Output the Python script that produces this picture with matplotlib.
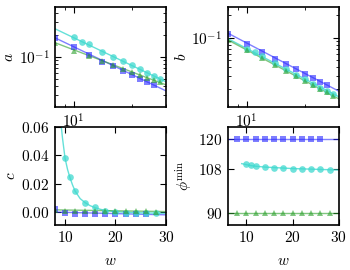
import matplotlib
matplotlib.use("Agg")
import matplotlib.pyplot as plt
from matplotlib.ticker import NullFormatter, FuncFormatter

plt.rcParams['font.family'] = 'serif'
plt.rcParams['font.serif'] = ['cmr10', 'DejaVu Serif']
plt.rcParams['mathtext.fontset'] = 'cm'
plt.rcParams['axes.formatter.use_mathtext'] = True
plt.rcParams['font.size'] = 11

# ---------------- data ----------------
w_blue = [8, 10, 12, 14, 16, 18, 20, 22, 24, 26]
w_cyan = [10, 11, 12, 14, 16, 18, 20, 22, 24, 26, 28]
w_green = [8, 10, 12, 14, 16, 18, 20, 22, 24, 26, 28]

a_blue = [0.182, 0.135, 0.106, 0.086, 0.074, 0.064, 0.056, 0.050, 0.045, 0.041]
a_cyan = [0.186, 0.160, 0.148, 0.117, 0.100, 0.087, 0.076, 0.067, 0.060, 0.055, 0.050]
a_green = [0.156, 0.120, 0.102, 0.088, 0.077, 0.069, 0.062, 0.056, 0.052, 0.048, 0.045]

b_blue = [0.113, 0.083, 0.064, 0.052, 0.0435, 0.037, 0.032, 0.028, 0.025, 0.0225]
b_cyan = [0.071, 0.063, 0.056, 0.045, 0.0372, 0.0315, 0.0272, 0.0238, 0.021, 0.0189, 0.017]
b_green = [0.093, 0.068, 0.053, 0.0428, 0.0355, 0.0301, 0.026, 0.0228, 0.0202, 0.0181, 0.0163]

c_blue = [0.0020, -0.0008, -0.0012, -0.0013, -0.0014, -0.0014, -0.0014, -0.0014, -0.0013, -0.0013]
c_cyan = [0.038, 0.0245, 0.0147, 0.0066, 0.0033, 0.0010, 0.0000, -0.0003, -0.0005, -0.0007, -0.0008]
c_green = [0.0012, 0.0010, 0.0009, 0.0008, 0.0007, 0.0006, 0.0006, 0.0005, 0.0005, 0.0005, 0.0004]

phi_blue = [120, 120, 120, 120, 120, 120, 120, 120, 120, 120]
phi_cyan = [109.7, 109.3, 109.0, 108.7, 108.4, 108.2, 108.0, 107.9, 107.8, 107.7, 107.5]
phi_green = [90, 90, 90, 90, 90, 90, 90, 90, 90, 90, 90]

# fit lines (endpoints / read sample points)
fit_w = [8, 30]
a_fit_blue = [0.182, 0.0342]
a_fit_cyan = [0.242, 0.0455]
a_fit_green = [0.156, 0.0413]
b_fit_blue = [0.115, 0.0188]
b_fit_cyan = [0.097, 0.0158]
b_fit_green = [0.093, 0.0148]

c_fit_w_cyan = [9.2, 9.5, 10, 10.5, 11, 11.5, 12, 13, 14, 15, 16, 17, 18, 20, 22, 25, 28, 30]
c_fit_cyan = [0.062, 0.052, 0.038, 0.030, 0.0240, 0.019, 0.0148, 0.0095, 0.0066, 0.0045, 0.0031,
              0.0020, 0.0012, 0.0003, -0.0001, -0.0005, -0.0007, -0.0008]
c_fit_w = [8, 30]
c_fit_blue = [0.0000, -0.0019]
c_fit_green = [0.0016, 0.0004]

phi_fit_w = [6, 30]
phi_fit_blue = [120, 120]
phi_fit_green = [90, 90]
phi_fit_w_cyan = [9, 10, 11, 12, 14, 16, 20, 25, 30]
phi_fit_cyan = [110.0, 109.6, 109.2, 108.95, 108.6, 108.4, 108.0, 107.7, 107.4]

# ---------------- style ----------------
CB = '#2a2aff'
CC = '#3fd9cf'
CG = '#2ca02c'
mk = dict(linestyle='none', alpha=0.6, markeredgewidth=0)

fig = plt.figure(figsize=(3.5, 2.7), dpi=100)
ax1 = fig.add_axes([0.157, 0.604, 0.317, 0.370])
ax2 = fig.add_axes([0.651, 0.604, 0.317, 0.370])
ax3 = fig.add_axes([0.157, 0.167, 0.317, 0.363])
ax4 = fig.add_axes([0.651, 0.167, 0.317, 0.363])


def style(ax):
    ax.tick_params(which='both', direction='in', top=True, right=True, labelsize=11, pad=4)
    ax.tick_params(which='major', length=4, width=0.8)
    ax.tick_params(which='minor', length=2, width=0.6)
    for s in ax.spines.values():
        s.set_linewidth(1.2)


def plot_set(ax, fw_b, fb, fw_c, fc, fw_g, fg, yb, yc, yg):
    ax.plot(fw_b, fb, color=CB, lw=1.0, alpha=0.6)
    ax.plot(fw_c, fc, color=CC, lw=1.0, alpha=0.8)
    ax.plot(fw_g, fg, color=CG, lw=1.0, alpha=0.6)
    ax.plot(w_blue, yb, marker='s', ms=4.8, color=CB, **mk)
    ax.plot(w_cyan, yc, marker='o', ms=4.8, color=CC, linestyle='none', alpha=0.75, markeredgewidth=0)
    ax.plot(w_green, yg, marker='^', ms=4.3, color=CG, **mk)


plot_set(ax1, fit_w, a_fit_blue, fit_w, a_fit_cyan, fit_w, a_fit_green, a_blue, a_cyan, a_green)
plot_set(ax2, fit_w, b_fit_blue, fit_w, b_fit_cyan, fit_w, b_fit_green, b_blue, b_cyan, b_green)
plot_set(ax3, c_fit_w, c_fit_blue, c_fit_w_cyan, c_fit_cyan, c_fit_w, c_fit_green, c_blue, c_cyan, c_green)
plot_set(ax4, phi_fit_w, phi_fit_blue, phi_fit_w_cyan, phi_fit_cyan, phi_fit_w, phi_fit_green,
         phi_blue, phi_cyan, phi_green)

for ax in (ax1, ax2):
    ax.set_xscale('log')
    ax.set_yscale('log')
    ax.set_xlim(8, 30)
    ax.xaxis.set_minor_formatter(NullFormatter())
    ax.yaxis.set_minor_formatter(NullFormatter())
ax1.set_ylim(0.0206, 0.48)
ax2.set_ylim(0.0115, 0.26)

ax3.set_xlim(8, 30)
ax3.set_ylim(-0.009, 0.06)
ax3.set_xticks([10, 20, 30])
ax3.set_yticks([0.0, 0.02, 0.04, 0.06])
ax3.yaxis.set_major_formatter(FuncFormatter(lambda v, p: '$%.2f$' % v))
ax3.xaxis.set_major_formatter(FuncFormatter(lambda v, p: '$%d$' % v))

ax4.set_xlim(6, 30)
ax4.set_ylim(85, 125)
ax4.set_xticks([10, 20, 30])
ax4.set_yticks([90, 108, 120])
ax4.yaxis.set_major_formatter(FuncFormatter(lambda v, p: '$%d$' % v))
ax4.xaxis.set_major_formatter(FuncFormatter(lambda v, p: '$%d$' % v))

for ax in (ax1, ax2, ax3, ax4):
    style(ax)

ax1.set_ylabel('$a$', fontsize=11, labelpad=2)
ax2.set_ylabel('$b$', fontsize=11, labelpad=2)
ax3.set_ylabel('$c$', fontsize=11, labelpad=2)
ax4.set_ylabel(r'$\phi^{\rm min}$', fontsize=11, labelpad=2)
ax3.set_xlabel('$w$', fontsize=11, labelpad=6)
ax4.set_xlabel('$w$', fontsize=11, labelpad=6)

fig.savefig('out.png', dpi=100)
